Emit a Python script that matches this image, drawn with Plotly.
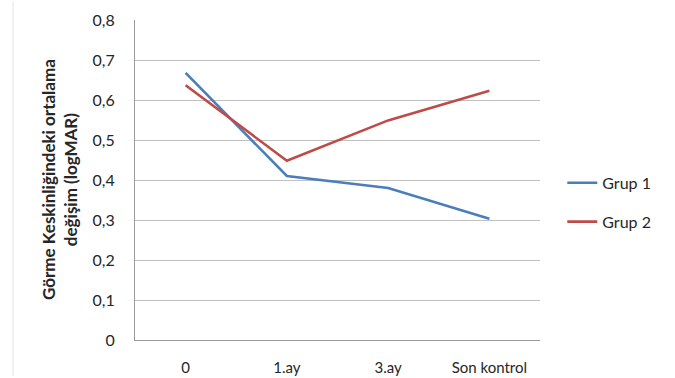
import plotly.graph_objects as go

# Measurement times on the horizontal axis
categories = ["0", "1.ay", "3.ay", "Son kontrol"]

# Mean change in visual acuity (logMAR)
grup1 = [0.668, 0.410, 0.380, 0.303]
grup2 = [0.637, 0.448, 0.549, 0.623]

y_ticks = [0, 0.1, 0.2, 0.3, 0.4, 0.5, 0.6, 0.7, 0.8]
y_tick_labels = ["0", "0,1", "0,2", "0,3", "0,4", "0,5", "0,6", "0,7", "0,8"]

FONT = "Lato, 'Liberation Sans', sans-serif"
TEXT = "#262626"

fig = go.Figure()
fig.add_trace(go.Scatter(
    x=categories, y=grup1, mode="lines", name="Grup 1",
    line=dict(color="#4a7ebb", width=2.6), legendgroup="g1",
))
fig.add_trace(go.Scatter(
    x=categories, y=grup2, mode="lines", name="Grup 2",
    line=dict(color="#be4b48", width=2.6), legendgroup="g2",
))

fig.update_layout(
    width=675, height=378,
    margin=dict(l=135, r=135, t=20, b=38),
    paper_bgcolor="white", plot_bgcolor="white",
    font=dict(family=FONT, color=TEXT, size=16),
    showlegend=True,
    legend=dict(
        x=1.055, y=0.43, xanchor="left", yanchor="middle",
        font=dict(size=16, color=TEXT),
        traceorder="grouped", tracegroupgap=15,
        itemwidth=30, bgcolor="rgba(0,0,0,0)",
    ),
    xaxis=dict(
        type="category", range=[-0.5, 3.5], automargin=False,
        showgrid=False, showline=True, linecolor="#9a9a9a", linewidth=1,
        ticks="outside", ticklen=14, tickcolor="rgba(0,0,0,0)",
        tickfont=dict(size=15, color=TEXT), zeroline=False,
    ),
    yaxis=dict(
        range=[0, 0.8], tickvals=y_ticks, ticktext=y_tick_labels,
        automargin=False,
        showgrid=True, gridcolor="#c0c0c0", gridwidth=1,
        showline=True, linecolor="#9a9a9a", linewidth=1,
        ticks="outside", ticklen=16, tickcolor="rgba(0,0,0,0)",
        tickfont=dict(size=16, color=TEXT), zeroline=False,
    ),
    annotations=[dict(
        text="<b>Görme Keskinliğindeki ortalama<br>değişim (logMAR)</b>",
        xref="paper", yref="paper",
        x=(59 - 135) / 405, y=0.5, xanchor="center", yanchor="middle",
        textangle=-90, showarrow=False,
        font=dict(size=17, color=TEXT, family=FONT),
    )],
    shapes=[dict(
        type="line", xref="paper", yref="paper",
        x0=(13 - 135) / 405, x1=(13 - 135) / 405,
        y0=(340 - 376) / 320, y1=(340 - 2) / 320,
        line=dict(color="#e3e3e3", width=1),
    )],
)

fig.write_html("out.html")
